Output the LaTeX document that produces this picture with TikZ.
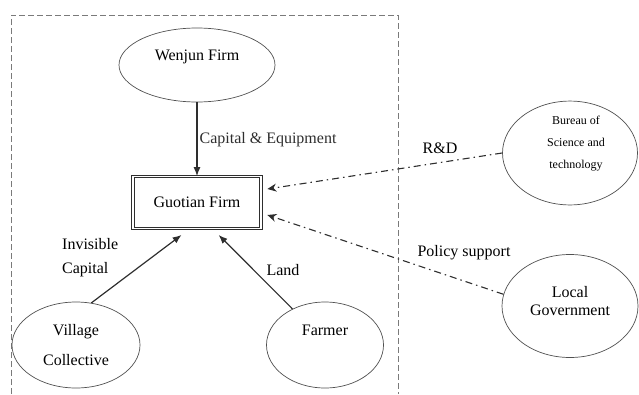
\documentclass[tikz,border=0pt]{standalone}
\usepackage{fontspec}
\setmainfont{Liberation Serif}
\usetikzlibrary{arrows.meta, shapes.geometric, calc}
\definecolor{lineg}{HTML}{2E2E2E}
\definecolor{frameg}{HTML}{7A7A7A}
\definecolor{ringg}{HTML}{505050}

\begin{document}
\begin{tikzpicture}[
   x=1pt, y=-1pt,
   font=\fontsize{16}{18}\selectfont,
   actor/.style={ellipse, draw=ringg, line width=0.7pt, align=center, inner sep=0pt},
   firm/.style={rectangle, draw=lineg, line width=0.8pt, double, double distance=1.6pt,
                minimum width=128pt, minimum height=52pt, inner sep=0pt},
   arr/.style={-{Latex[length=9pt,width=7pt]}, line width=1.2pt, lineg},
   dasharr/.style={-{Stealth[length=9pt,width=8pt]}, line width=1.1pt, lineg,
                   dash pattern=on 7pt off 4pt on 1.5pt off 4pt},
   lab/.style={inner sep=2pt}]
 \useasboundingbox (0,0) rectangle (639,394);
 \draw[frameg, line width=0.9pt, dash pattern=on 6pt off 3pt]
   (11,394) -- (11,15) -- (398,15) -- (398,394);
 \node[actor, minimum width=156pt, minimum height=74pt, text depth=20pt] (wenjun) at (197,65) {Wenjun Firm};
 \node[firm] (guotian) at (197,202.5) {Guotian Firm};
 \node[actor, minimum width=135pt, minimum height=103pt, text depth=21pt, font=\fontsize{12}{22}\selectfont]
   (bureau) at (570,153) {\hspace*{12pt}Bureau of\\\hspace*{12pt}Science and\\\hspace*{12pt}technology};
 \node[actor, minimum width=136pt, minimum height=103pt, text depth=11pt] (localgov) at (570,306) {Local\\Government};
 \node[actor, minimum width=128pt, minimum height=86pt, font=\fontsize{16}{30}\selectfont]
   (village) at (76,345) {Village\\Collective};
 \node[actor, minimum width=117pt, minimum height=86pt, text depth=30pt] (farmer) at (325,345) {Farmer};
 \node[lab, align=left, anchor=west, font=\fontsize{16}{24}\selectfont] (invcap) at (60,258) {Invisible\\Capital};
 \node[lab] (land) at (283,270) {Land};
 \node[lab] (rnd) at (440,148) {R\&D};
 \node[lab] (policy) at (464,253) {Policy support};
 \draw[arr] (wenjun) -- (guotian) node[midway, right, lab] {Capital \& Equipment};
 \draw[arr] (village.70) -- ($(guotian.south west)+(49,6)$);
 \draw[arr] (farmer.132) -- ($(guotian.south west)+(86,6)$);
 \draw[dasharr] (bureau.west) -- ($(guotian.east)+(6,-13.5)$);
 \draw[dasharr] (localgov.170) -- ($(guotian.east)+(6,12.5)$);
\end{tikzpicture}
\end{document}
